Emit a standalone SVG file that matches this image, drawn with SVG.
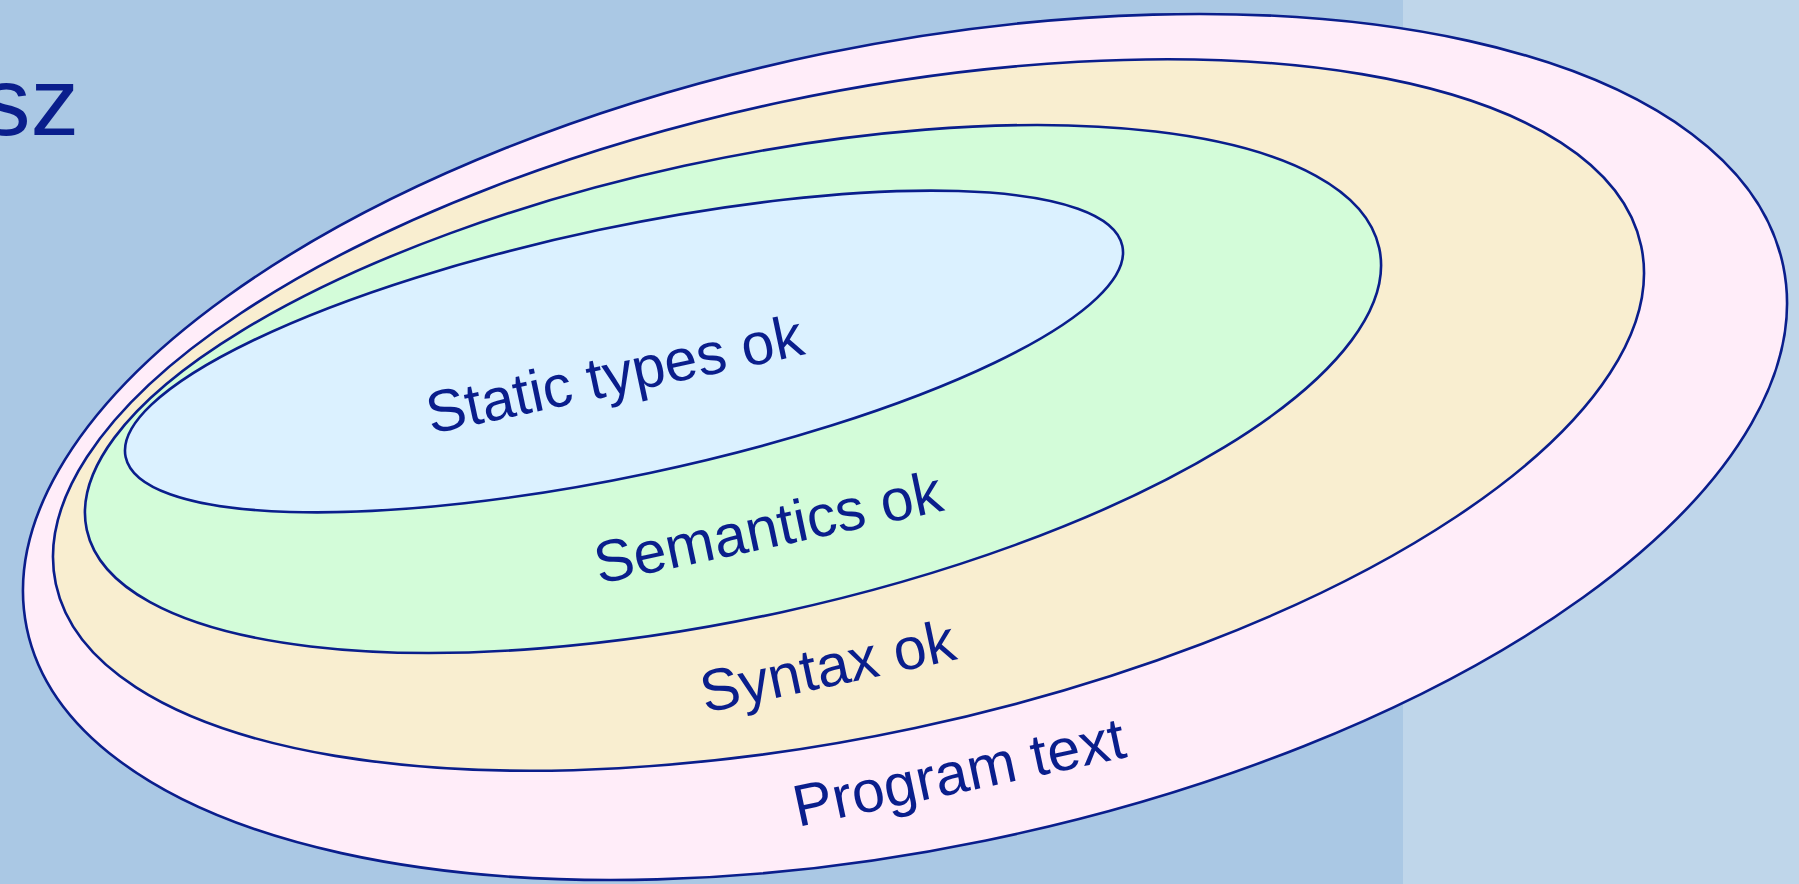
<svg xmlns="http://www.w3.org/2000/svg" width="1799" height="884" viewBox="0 0 1799 884">
<style>
.ring{stroke:#0a1e8c;stroke-width:2.6}
.lbl{font-family:"Liberation Sans",Arial,sans-serif;font-size:59px;fill:#0a1e8c}
</style>
<rect x="0" y="0" width="1403" height="884" fill="#aac8e4"/>
<rect x="1403" y="0" width="396" height="884" fill="#bfd6ea"/>
<text x="-18" y="135" style="font-family:'Liberation Sans',Arial,sans-serif;font-size:97px;fill:#0a1e8c">sz</text>
<g id="program-text">
<ellipse class="ring" cx="905" cy="447" rx="896.7" ry="401.7" transform="rotate(-11.64 905 447)" fill="#ffedf9"/>
</g>
<g id="syntax-ok">
<ellipse class="ring" cx="848.5" cy="415" rx="810.5" ry="320" transform="rotate(-12.04 848.5 415)" fill="#f9eed0"/>
</g>
<g id="semantics-ok">
<ellipse class="ring" cx="733" cy="389" rx="661.4" ry="228.4" transform="rotate(-12.3 733 389)" fill="#d3fcd9"/>
</g>
<g id="static-types-ok">
<ellipse class="ring" cx="624" cy="351.5" rx="509.4" ry="124.1" transform="rotate(-11.95 624 351.5)" fill="#dbf1ff"/>
</g>
<g id="labels">
<text class="lbl" x="431" y="434" transform="rotate(-12 431 434)">Static types ok</text>
<text class="lbl" x="599" y="584" transform="rotate(-12 599 584)">Semantics ok</text>
<text class="lbl" x="705" y="713" transform="rotate(-12 705 713)">Syntax ok</text>
<text class="lbl" x="798" y="827" transform="rotate(-12 798 827)">Program text</text>
</g>
</svg>
